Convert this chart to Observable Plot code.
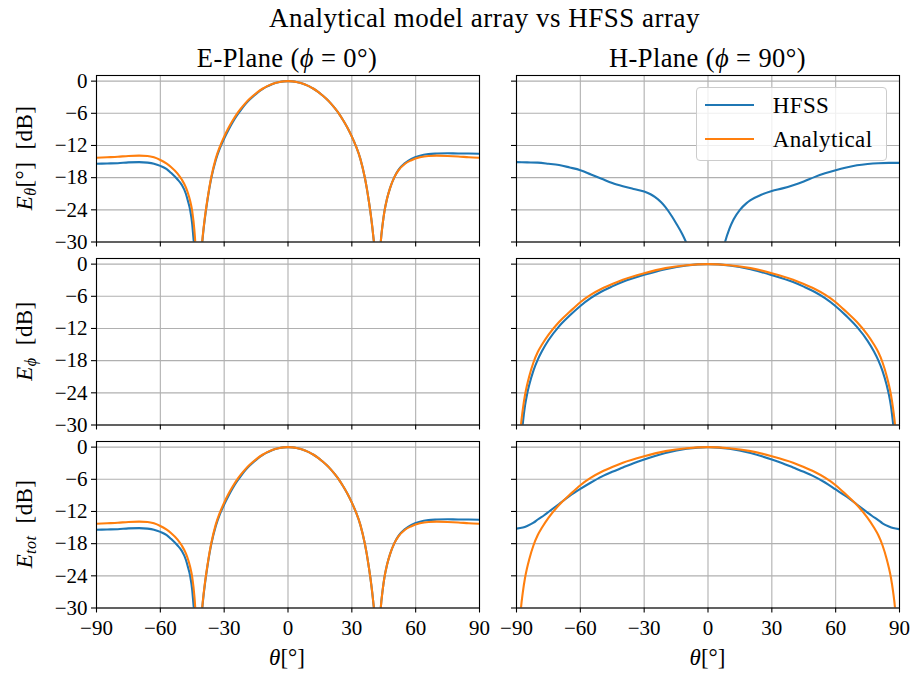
<!DOCTYPE html>
<html>
<head>
<meta charset="utf-8">
<script src="https://cdn.jsdelivr.net/npm/d3@7"></script>
<script src="https://cdn.jsdelivr.net/npm/@observablehq/plot@0.6"></script>
<style>
  body { margin: 0; background: #fff; }
  #root { position: relative; width: 912px; height: 673px; background: #fff; overflow: hidden;
          font-family: "Liberation Serif", "DejaVu Serif", serif; color: #000; }
  .abs { position: absolute; white-space: nowrap; line-height: 1; }
  .c { transform: translate(-50%, -50%); }
  .r { transform: translate(-50%, -50%) rotate(-90deg); }
  sub { font-size: 70%; vertical-align: -0.25em; line-height: 0; }
  svg { overflow: visible; }
</style>
</head>
<body>
<div id="root"></div>
<script>
// ---------------- data (theta in degrees, level in dB) ----------------
const xTicks = [-90, -60, -30, 0, 30, 60, 90];
const yTicks = [0, -6, -12, -18, -24, -30];
const seriesNames = ["HFSS", "Analytical"];
const columnTitles = ["E-Plane", "H-Plane"];

// E-plane, E_theta, HFSS
const eThetaEPlaneHFSS = [
  [-90,-15.4],[-85,-15.35],[-80,-15.3],[-75,-15.15],[-70,-15.1],[-66,-15.2],[-63,-15.4],[-60,-15.8],
  [-57,-16.4],[-55,-17.1],[-52,-18.3],[-50,-19.3],[-48,-21.0],[-47,-22.4],[-46,-24.0],[-45,-26.7],
  [-44.5,-29.0],[-44,-31.2],[-43.6,-34],[-43,-38],[-42.3,-45],[-41,-33.7],[-40,-28.8],[-39,-25.4],
  [-38,-22.6],[-37,-20.1],[-36,-18.0],[-34,-14.8],[-32,-12.5],[-30,-10.7],[-28,-9.1],[-26,-7.65],
  [-24,-6.4],[-22,-5.3],[-20,-4.3],[-18,-3.45],[-16,-2.72],[-14,-2.05],[-12,-1.5],[-10,-1.03],
  [-8,-0.66],[-6,-0.37],[-4,-0.17],[-2,-0.04],[0,0],[2,-0.04],[4,-0.155],[6,-0.35],[8,-0.62],
  [10,-0.98],[12,-1.42],[14,-1.95],[16,-2.6],[18,-3.3],[20,-4.1],[22,-5.05],[24,-6.1],[26,-7.35],
  [28,-8.75],[30,-10.35],[32,-12.2],[34,-14.5],[36,-17.8],[37,-19.9],[38,-22.4],[39,-25.2],
  [40,-28.6],[41,-33.5],[41.9,-45],[43,-34],[43.6,-30],[44.5,-26.6],[45.4,-24.1],[46.5,-22.0],
  [48,-19.9],[50,-17.9],[52,-16.5],[55,-15.3],[58,-14.5],[62,-13.9],[66,-13.6],[70,-13.5],
  [75,-13.45],[80,-13.5],[85,-13.5],[90,-13.55]
];
// E-plane, E_theta, Analytical
const eThetaEPlaneAnalytical = [
  [-90,-14.3],[-85,-14.2],[-80,-14.1],[-75,-13.95],[-70,-13.9],[-66,-13.95],[-63,-14.2],[-60,-14.7],
  [-57,-15.4],[-55,-16.0],[-52,-17.2],[-50,-18.3],[-48,-19.8],[-47,-20.9],[-46,-22.3],[-45,-24.3],
  [-44,-27.8],[-43.5,-30.5],[-43,-34],[-42.3,-45],[-41,-33.5],[-40,-28.6],[-39,-25.2],[-38,-22.4],
  [-37,-19.9],[-36,-17.8],[-34,-14.5],[-32,-12.2],[-30,-10.35],[-28,-8.75],[-26,-7.35],[-24,-6.1],
  [-22,-5.05],[-20,-4.1],[-18,-3.3],[-16,-2.6],[-14,-1.95],[-12,-1.42],[-10,-0.98],[-8,-0.62],
  [-6,-0.35],[-4,-0.155],[-2,-0.04],[0,0],[2,-0.04],[4,-0.155],[6,-0.35],[8,-0.62],[10,-0.98],
  [12,-1.42],[14,-1.95],[16,-2.6],[18,-3.3],[20,-4.1],[22,-5.05],[24,-6.1],[26,-7.35],[28,-8.75],
  [30,-10.35],[32,-12.2],[34,-14.5],[36,-17.8],[37,-19.9],[38,-22.4],[39,-25.2],[40,-28.6],
  [41,-33.5],[41.9,-45],[43,-34],[43.6,-30],[44.5,-26.6],[45.4,-24.1],[46.5,-22.0],[48,-19.9],
  [50,-17.9],[52,-16.6],[55,-15.4],[58,-14.75],[62,-14.2],[66,-13.95],[70,-13.9],[75,-13.95],
  [80,-14.05],[85,-14.2],[90,-14.3]
];
// H-plane, E_theta, HFSS (analytical is zero -> not drawn)
const eThetaHPlaneHFSS = [
  [-90,-15.1],[-85,-15.15],[-80,-15.2],[-75,-15.4],[-70,-15.65],[-65,-16.1],[-60,-16.6],[-55,-17.4],
  [-50,-18.2],[-45,-19.0],[-40,-19.6],[-35,-20.1],[-30,-20.6],[-27,-21.1],[-25,-21.6],[-22,-22.6],
  [-20,-23.5],[-17,-25.2],[-15,-26.5],[-12,-28.6],[-10,-30.3],[-8,-32.2],[-5,-35.5],[-2,-39],
  [0,-40],[3,-38],[5,-35],[7,-31.5],[8,-30],[10,-27.6],[12,-25.8],[15,-24.0],[18,-22.8],
  [20,-22.2],[25,-21.2],[30,-20.5],[35,-20.0],[40,-19.4],[45,-18.7],[50,-17.9],[55,-17.2],
  [60,-16.6],[65,-16.1],[70,-15.7],[75,-15.45],[80,-15.3],[85,-15.25],[90,-15.25]
];
// H-plane, E_phi, HFSS
const ePhiHPlaneHFSS = [
  [-90,-50],[-89,-40],[-88,-34],[-87,-29.6],[-86,-26.4],[-85,-24.2],[-84,-22.5],[-82,-19.8],
  [-80,-17.8],[-78,-16.2],[-75,-14.2],[-70,-11.6],[-65,-9.6],[-60,-7.8],[-55,-6.3],[-50,-5.1],
  [-45,-4.15],[-40,-3.3],[-30,-2.0],[-20,-0.95],[-10,-0.25],[0,0],[10,-0.25],[20,-0.95],[30,-2.05],
  [40,-3.35],[45,-4.2],[50,-5.15],[55,-6.35],[60,-7.85],[65,-9.65],[70,-11.7],[75,-14.3],
  [78,-16.3],[80,-17.9],[82,-19.9],[84,-22.6],[85,-24.3],[86,-26.5],[87,-29.8],[88,-34],[89,-40],[90,-50]
];
// H-plane, E_phi, Analytical
const ePhiHPlaneAnalytical = [
  [-90,-50],[-89,-37],[-88,-30.5],[-87,-27],[-86,-24.4],[-85,-22.5],[-84,-20.9],[-82,-18.3],
  [-80,-16.4],[-78,-15.0],[-75,-13.2],[-70,-10.8],[-65,-8.9],[-60,-7.1],[-55,-5.7],[-50,-4.6],
  [-45,-3.7],[-40,-2.9],[-30,-1.7],[-20,-0.75],[-10,-0.2],[0,0],[10,-0.2],[20,-0.75],[30,-1.7],
  [40,-2.9],[45,-3.7],[50,-4.6],[55,-5.7],[60,-7.1],[65,-8.9],[70,-10.8],[75,-13.2],[78,-15.0],
  [80,-16.4],[82,-18.3],[84,-20.9],[85,-22.5],[86,-24.4],[87,-27],[88,-30.5],[89,-37],[90,-50]
];
// E_tot: E-plane equals E_theta (E_phi vanishes there)
const eTotEPlaneHFSS = eThetaEPlaneHFSS;
const eTotEPlaneAnalytical = eThetaEPlaneAnalytical;
// H-plane, E_tot, HFSS
const eTotHPlaneHFSS = [
  [-90,-15.2],[-87,-15.0],[-85,-14.7],[-82,-14.1],[-80,-13.5],[-77,-12.7],[-75,-12.1],[-70,-10.6],
  [-65,-9.1],[-60,-7.8],[-55,-6.6],[-50,-5.5],[-45,-4.6],[-40,-3.8],[-35,-3.0],[-30,-2.3],
  [-20,-1.1],[-10,-0.3],[0,0],[10,-0.3],[20,-1.1],[30,-2.3],[35,-3.0],[40,-3.8],[45,-4.6],
  [50,-5.5],[55,-6.6],[60,-7.9],[65,-9.2],[70,-10.7],[75,-12.2],[77,-12.8],[80,-13.6],[82,-14.2],
  [85,-14.8],[87,-15.1],[90,-15.3]
];
// H-plane, E_tot, Analytical (equals E_phi)
const eTotHPlaneAnalytical = ePhiHPlaneAnalytical;

// ---------------- layout ----------------
const COLORS = {HFSS: "#1f77b4", Analytical: "#ff7f0e"};
const root = document.getElementById("root");
const W = 383, H = 166.5;
const colLeft = [95.5, 516];
const rowTop = [74.5, 257.5, 440.5];
const ml = 70, mr = 20, mt = 10, mb = 50;
const fmt = d => d < 0 ? "\u2212" + (-d) : String(d);

const panels = [
  {r: 0, c: 0, s: [["HFSS", eThetaEPlaneHFSS], ["Analytical", eThetaEPlaneAnalytical]]},
  {r: 0, c: 1, s: [["HFSS", eThetaHPlaneHFSS]]},
  {r: 1, c: 0, s: []},
  {r: 1, c: 1, s: [["HFSS", ePhiHPlaneHFSS], ["Analytical", ePhiHPlaneAnalytical]]},
  {r: 2, c: 0, s: [["HFSS", eTotEPlaneHFSS], ["Analytical", eTotEPlaneAnalytical]]},
  {r: 2, c: 1, s: [["HFSS", eTotHPlaneHFSS], ["Analytical", eTotHPlaneAnalytical]]}
];

for (const p of panels) {
  const showY = p.c === 0, showX = p.r === 2;
  const chart = Plot.plot({
    width: W + ml + mr, height: H + mt + mb,
    marginLeft: ml, marginRight: mr, marginTop: mt, marginBottom: mb,
    style: {fontFamily: '"Liberation Serif", "DejaVu Serif", serif', fontSize: "21px",
            background: "transparent", overflow: "visible", color: "#000"},
    x: {domain: [-90, 90], axis: null},
    y: {domain: [-30, 1.05], axis: null},
    marks: [
      Plot.gridX(xTicks, {stroke: "#b0b0b0", strokeOpacity: 1, strokeWidth: 1.1}),
      Plot.gridY(yTicks, {stroke: "#b0b0b0", strokeOpacity: 1, strokeWidth: 1.1}),
      ...p.s.map(([name, data]) => Plot.line(data, {
        x: d => d[0], y: d => d[1], stroke: COLORS[name], strokeWidth: 2.1,
        curve: "monotone-x", clip: true
      })),
      Plot.frame({stroke: "#000", strokeWidth: 1.1}),
      Plot.axisX(xTicks, {anchor: "bottom", tickSize: 5, tickPadding: 7, strokeWidth: 1.1,
        tickFormat: showX ? fmt : () => "", label: null}),
      Plot.axisY(yTicks, {anchor: "left", tickSize: 5, tickPadding: 4, strokeWidth: 1.1,
        tickFormat: showY ? fmt : () => "", label: null})
    ]
  });
  chart.style.position = "absolute";
  chart.style.left = (colLeft[p.c] - ml) + "px";
  chart.style.top = (rowTop[p.r] - mt) + "px";
  root.appendChild(chart);
}

function addText(html, x, y, size, cls = "c", extra = "") {
  const d = document.createElement("div");
  d.className = "abs " + cls;
  d.style.cssText += `left:${x}px;top:${y}px;font-size:${size}px;${extra}`;
  d.innerHTML = html;
  root.appendChild(d);
  return d;
}

// titles
addText("Analytical model array vs HFSS array", 484.5, 18, 27, "c", "letter-spacing:0.5px;");
addText(`${columnTitles[0]} (<i>ϕ</i> = 0°)`, colLeft[0] + W / 2, 58, 26.5, "c", "letter-spacing:0.4px;");
addText(`${columnTitles[1]} (<i>ϕ</i> = 90°)`, colLeft[1] + W / 2, 58, 26.5, "c", "letter-spacing:0.4px;");

// y labels
const yLabels = [
  "<i>E</i><sub><i>θ</i></sub>[°]&nbsp;&nbsp;[dB]",
  "<i>E</i><sub><i>ϕ</i></sub>&nbsp;&nbsp;[dB]",
  "<i>E</i><sub><i>tot</i></sub>&nbsp;&nbsp;[dB]"
];
yLabels.forEach((t, i) => addText(t, 24, rowTop[i] + H / 2, 23, "r", "letter-spacing:0.4px;"));

// x labels
for (const c of [0, 1]) addText("<i>θ</i>[°]", colLeft[c] + W / 2, 657, 23);

// legend
const lg = document.createElement("div");
lg.className = "abs";
lg.style.cssText = "left:695.7px;top:87.3px;width:191px;height:73.4px;box-sizing:border-box;" +
  "border:1px solid #cccccc;border-radius:4px;background:rgba(255,255,255,0.8);";
seriesNames.forEach((name, i) => {
  const cy = 17 + i * 34;
  const sw = document.createElement("div");
  sw.style.cssText = `position:absolute;left:8px;top:${cy - 1}px;width:49px;height:0;border-top:2.1px solid ${COLORS[name]};`;
  lg.appendChild(sw);
  const tx = document.createElement("div");
  tx.style.cssText = `position:absolute;left:76px;top:${cy}px;transform:translateY(-50%);font-size:23px;letter-spacing:0.4px;line-height:1;white-space:nowrap;`;
  tx.textContent = name;
  lg.appendChild(tx);
});
root.appendChild(lg);
</script>
</body>
</html>
